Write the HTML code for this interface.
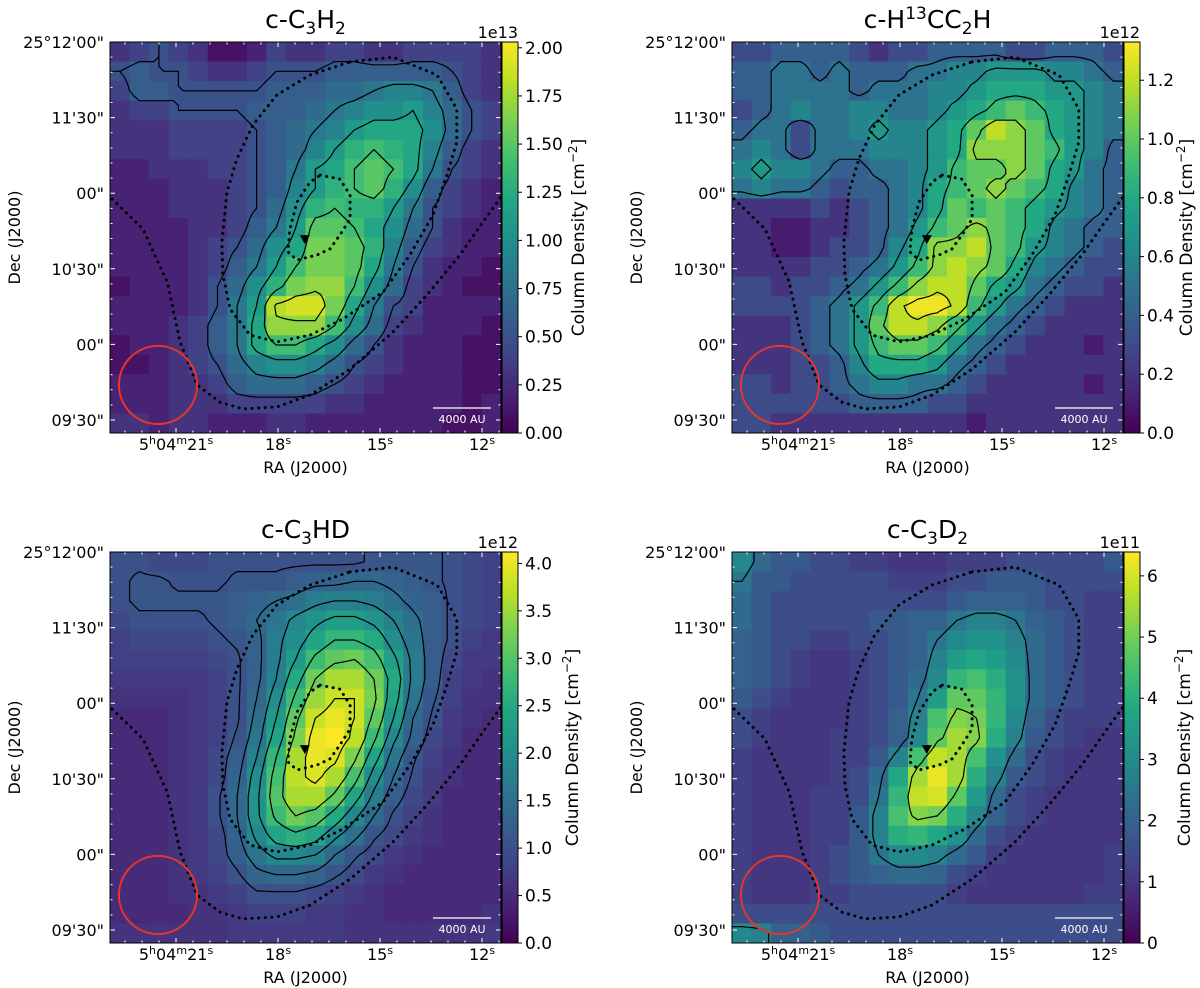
<!DOCTYPE html>
<html><head><meta charset="utf-8">
<style>
html,body{margin:0;padding:0;background:#fff;}
svg{display:block;font-family:"DejaVu Sans","Liberation Sans",sans-serif;}
</style></head>
<body>
<svg id="fig" width="1200" height="988" viewBox="0 0 1200 988" xmlns="http://www.w3.org/2000/svg"></svg>
<script>
// ---- data ----
const p1Grid = [
[3,4,5,4,3,1,1,2,4,3,3,4,4,3,3,4,4,4,4,3],
[5,6,5,5,4,3,3,4,5,5,5,6,6,6,6,6,6,5,4,3],
[4,6,6,5,5,5,5,5,6,6,6,7,7,8,9,9,8,6,4,3],
[3,4,4,5,5,5,5,6,6,6,7,8,9,10,10,11,9,7,5,4],
[3,3,3,4,4,4,4,5,6,7,8,9,11,12,12,12,10,7,5,4],
[3,3,3,4,4,4,4,5,6,7,9,11,13,14,13,12,9,6,4,3],
[2,2,3,3,3,4,4,5,6,8,11,12,14,15,14,12,8,5,4,3],
[2,2,2,3,3,3,4,5,6,9,11,13,14,15,13,10,6,4,3,2],
[2,2,2,3,3,3,4,5,7,10,13,14,13,13,11,8,5,4,3,2],
[2,2,2,2,3,3,4,6,8,11,15,15,14,12,10,7,5,3,2,2],
[2,2,2,2,3,4,5,7,10,12,16,16,15,13,9,6,4,3,2,2],
[2,2,2,2,3,4,6,8,11,14,16,16,15,12,8,5,3,2,2,1],
[1,2,2,2,3,5,7,10,13,16,17,17,14,10,7,4,3,2,1,1],
[2,2,2,2,3,5,8,11,18,19,19,16,12,8,5,4,2,2,2,2],
[2,2,2,3,4,6,8,12,17,17,17,14,10,7,4,3,2,2,2,1],
[1,2,2,3,4,6,8,12,14,14,12,10,7,5,3,2,2,2,1,1],
[1,1,2,3,4,5,7,9,10,10,9,7,5,4,3,2,2,2,1,1],
[2,2,2,3,3,4,6,7,7,7,6,5,4,3,2,2,2,2,1,1],
[2,2,2,3,3,3,4,4,4,4,4,3,3,2,2,2,2,2,1,2],
[3,3,2,3,3,2,2,2,3,3,2,2,2,2,2,2,2,1,1,2]];
const p2Grid = [
[3,3,4,4,4,4,3,2,3,3,4,4,4,4,3,3,4,4,4,3],
[4,4,5,5,4,5,4,4,4,5,5,6,6,7,7,7,6,6,5,4],
[4,4,5,5,5,5,4,5,5,5,6,6,7,8,8,8,7,7,6,5],
[3,4,5,6,5,5,6,6,5,5,6,7,8,9,10,9,8,7,6,5],
[4,5,5,3,5,5,6,7,6,6,7,8,10,12,11,10,8,7,6,5],
[5,6,5,3,5,5,5,6,6,6,7,8,11,11,11,10,9,7,6,4],
[6,7,6,6,5,4,4,5,5,6,7,9,10,10,11,10,8,7,5,4],
[5,6,5,5,4,3,4,4,5,6,8,9,10,11,10,9,8,6,5,4],
[2,2,2,2,3,2,3,4,5,6,8,10,9,10,9,8,7,6,5,4],
[2,2,1,1,2,2,3,4,5,7,9,10,11,10,9,8,6,5,4,4],
[2,2,1,1,2,3,3,4,6,8,11,11,12,10,9,7,6,5,4,3],
[2,2,2,2,3,3,4,5,7,9,11,12,11,10,8,6,5,4,3,3],
[3,3,2,3,3,4,5,7,9,11,12,12,10,8,7,5,4,3,3,2],
[3,3,3,3,4,5,7,9,12,13,13,12,9,7,5,4,3,2,2,2],
[2,2,2,3,4,5,7,10,12,12,11,9,7,5,4,3,2,2,2,2],
[2,2,2,3,4,5,7,9,10,10,9,7,5,4,3,2,2,2,1,2],
[2,2,2,3,3,4,6,8,8,8,7,5,4,3,2,2,2,2,2,2],
[3,3,2,3,3,4,5,6,6,5,5,4,3,2,2,2,2,2,1,2],
[3,3,3,3,3,3,4,4,4,4,3,3,2,2,2,2,2,2,2,2],
[3,3,2,2,2,2,2,2,2,2,2,2,1,2,2,2,2,2,2,2]];
const p3Grid = [
[10,10,9,9,9,10,10,10,10,10,10,10,10,11,11,11,11,10,9,8],
[10,11,11,10,10,10,11,11,11,12,13,13,14,14,13,12,11,10,9,8],
[10,11,11,11,11,11,12,13,14,15,17,18,18,17,15,13,12,10,9,8],
[9,10,10,10,10,11,12,14,16,19,21,23,23,21,18,15,12,10,9,8],
[8,9,9,9,9,10,11,13,17,20,24,27,27,25,20,16,12,10,8,7],
[8,8,8,8,8,9,10,13,17,22,28,31,32,29,23,17,12,9,7,7],
[7,7,7,7,7,8,10,13,18,25,32,36,36,32,25,17,12,8,7,6],
[6,6,6,6,7,8,10,14,20,28,35,38,38,33,24,16,11,8,6,6],
[5,5,5,6,7,8,10,15,22,31,38,40,38,31,22,14,10,7,6,5],
[5,5,5,6,7,8,11,16,24,33,40,41,37,28,19,13,9,7,5,5],
[5,5,5,6,7,9,12,18,27,36,40,39,33,24,16,11,8,6,5,5],
[5,5,5,6,7,9,13,20,29,37,39,36,29,20,14,10,7,6,5,5],
[5,5,5,6,7,10,14,21,30,36,36,31,24,17,12,9,7,5,5,5],
[5,5,5,6,7,10,14,21,28,32,30,25,19,14,10,8,6,5,5,5],
[5,5,5,6,7,9,13,19,24,26,24,19,15,11,9,7,6,5,5,5],
[5,5,5,6,7,9,12,16,19,19,18,14,11,9,7,6,5,5,5,5],
[5,5,5,6,7,8,10,13,14,14,13,11,9,7,6,5,5,5,5,5],
[5,5,5,6,6,7,8,10,10,10,9,8,7,6,5,5,5,5,5,5],
[5,5,5,5,6,6,7,8,8,8,7,7,6,6,5,5,5,5,5,6],
[6,6,6,6,6,6,7,7,7,7,7,7,6,6,6,6,6,6,6,7]];
const p4Grid = [
[30,22,18,18,15,15,12,12,10,10,10,12,12,12,15,15,15,15,15,18],
[25,18,18,15,15,15,15,15,12,12,12,15,15,18,18,18,15,15,15,15],
[22,18,15,15,15,15,15,15,15,15,15,18,20,20,20,18,15,15,12,12],
[22,18,15,15,15,15,15,18,18,20,20,25,28,28,25,20,18,15,12,12],
[20,18,15,15,12,12,15,15,18,20,25,30,32,32,28,22,18,15,12,12],
[20,18,15,12,10,10,12,15,18,20,28,35,38,35,30,22,18,15,12,12],
[20,18,15,12,10,10,12,15,18,22,30,42,45,40,32,22,18,15,12,12],
[18,15,12,10,10,10,12,15,18,25,35,48,48,42,32,22,18,15,12,12],
[15,12,10,10,10,10,12,15,20,28,45,52,50,42,30,20,15,12,12,12],
[15,12,10,10,10,12,12,15,20,30,48,55,52,40,28,18,15,12,10,10],
[12,10,10,10,10,12,12,18,28,45,58,55,45,32,22,15,12,10,10,10],
[12,10,10,10,10,12,15,22,38,55,62,55,40,28,18,15,12,10,10,10],
[12,10,10,10,12,12,15,25,42,58,60,48,35,22,15,12,10,10,10,10],
[12,10,10,10,12,12,18,28,45,52,50,40,30,20,15,12,10,10,10,10],
[12,10,10,10,12,12,18,28,40,42,38,32,22,15,12,10,10,10,10,10],
[12,10,10,10,12,15,18,25,30,30,28,22,18,12,10,10,10,10,10,12],
[12,10,10,10,12,15,18,20,22,22,20,15,12,10,10,10,10,10,10,12],
[12,10,10,10,12,12,15,15,15,15,15,12,10,10,10,10,10,10,12,12],
[15,15,15,15,15,15,15,15,15,15,15,15,15,15,15,15,15,15,15,15],
[30,28,20,20,18,15,15,15,15,15,15,15,15,15,15,15,15,15,15,15]];
const p1Levels = [5,8,11,14,17.5];
const p2Levels = [4.5,6.5,8.5,10.5,12.3];
const p3Levels = [10.5,14,18,22,27,32,38];
const p4Levels = [25,50];
const p1Ticks = [0,0.25,0.5,0.75,1.0,1.25,1.5,1.75,2.0];
const p2Ticks = [0,0.2,0.4,0.6,0.8,1.0,1.2];
const p3Ticks = [0,0.5,1.0,1.5,2.0,2.5,3.0,3.5,4.0];
const p4Ticks = [0,1,2,3,4,5,6];
const raTicks = [21,18,15,12];
const decTicks = [180,150,120,90,60,30];
const decLabels = ["25°12'00\"","11'30\"","00\"","10'30\"","00\"","09'30\""];
const bigLoopRA  = [15.88,14.62,13.32,12.74,12.74,13.03,13.44,14.12,14.91,16.09,17.06,18.03,18.82,19.41,19.62,19.65,19.50,19.21,18.74,18.03,17.06,15.88];
const bigLoopDec = [172.1,174.0,166.9,153.4,140.3,127.2,111.4,95.5,80.8,70.1,63.7,61.0,63.7,74.0,87.5,100.6,120.5,133.6,147.1,159.0,166.9,172.1];
const outerRA  = [22.88,21.97,21.26,20.88,20.38,19.71,19.03,18.03,17.06,15.88,14.62,13.62,12.65,11.97,11.44];
const outerDec = [117.7,105.8,84.8,61.0,43.9,37.1,34.4,35.2,39.9,50.2,64.9,79.6,95.5,108.6,118.5];
const innerRA  = [16.76,16.18,15.88,15.88,16.18,16.47,16.85,17.44,17.71,17.65,17.44,17.06,16.76];
const innerDec = [127.2,125.6,119.3,109.8,103.4,97.9,95.5,93.5,96.7,105.8,116.5,124.4,127.2];
const starRA = 17.21, starDec = 101.8;
const beamRA = 21.53, beamDec = 43.9, beamRadius = 15.5;

// ---- drawing ----
const NS = "http://www.w3.org/2000/svg";
const svg = document.getElementById('fig');
const PW = 391, PH = 391;
const stops = ["#440154","#482475","#414487","#355f8d","#2a788e","#21918c","#22a884","#44bf70","#7ad151","#bddf26","#fde725"];
function hex(h){return [parseInt(h.substr(1,2),16),parseInt(h.substr(3,2),16),parseInt(h.substr(5,2),16)];}
function viridis(t){t=Math.max(0,Math.min(1,t));const f=t*10,i=Math.min(9,Math.floor(f)),r=f-i;const a=hex(stops[i]),b=hex(stops[i+1]);
 return `rgb(${Math.round(a[0]+(b[0]-a[0])*r)},${Math.round(a[1]+(b[1]-a[1])*r)},${Math.round(a[2]+(b[2]-a[2])*r)})`;}
function el(tag,attrs,parent){const e=document.createElementNS(NS,tag);for(const k in attrs)e.setAttribute(k,attrs[k]);(parent||svg).appendChild(e);return e;}
const defs = el('defs',{});
const grad = el('linearGradient',{id:'vir',x1:0,y1:1,x2:0,y2:0},defs);
stops.forEach((s,i)=>el('stop',{offset:i/10,'stop-color':s},grad));

function xScale(ra){return 66+(21-ra)*34;}
function yScale(dec){return (180-dec)/0.3968;}

function panel(cfg){
 const g = el('g',{transform:`translate(${cfg.left},${cfg.top})`});
 
 
 const clipId='clip'+cfg.name;
 const cp=el('clipPath',{id:clipId},defs); el('rect',{x:0,y:0,width:PW,height:PH},cp);
 const grid=cfg.grid, n=grid.length, m=grid[0].length, cw=PW/m, ch=PH/n;
 const hm = el('g',{'clip-path':`url(#${clipId})`},g);
 
 
 for(let r=0;r<n;r++)for(let c=0;c<m;c++){
  const rc=el('rect',{x:(c*cw).toFixed(2),y:(r*ch).toFixed(2),width:(cw+0.6).toFixed(2),height:(ch+0.6).toFixed(2),fill:viridis(grid[r][c]/cfg.vmax)},hm);
  
  
 }
 const S=4, N=n*S+1, M=m*S+1;
 function val(px,py){
  let fx=px/cw-0.5, fy=py/ch-0.5; fx=Math.max(0,Math.min(m-1,fx)); fy=Math.max(0,Math.min(n-1,fy));
  const x0=Math.min(m-2,Math.floor(fx)),y0=Math.min(n-2,Math.floor(fy)),tx=fx-x0,ty=fy-y0;
  return grid[y0][x0]*(1-tx)*(1-ty)+grid[y0][x0+1]*tx*(1-ty)+grid[y0+1][x0]*(1-tx)*ty+grid[y0+1][x0+1]*tx*ty;}
 const V=[];for(let j=0;j<N;j++){V.push([]);for(let i=0;i<M;i++)V[j].push(val(i*PW/(M-1),j*PH/(N-1)));}
 const dx=PW/(M-1), dy=PH/(N-1);
 cfg.levels.forEach(L=>{
  let d='';
  function ip(v1,v2,x1,y1,x2,y2){const t=(L-v1)/(v2-v1);return [x1+(x2-x1)*t,y1+(y2-y1)*t];}
  for(let j=0;j<N-1;j++){
   for(let i=0;i<M-1;i++){
    const a=V[j][i],b=V[j][i+1],c=V[j+1][i+1],e=V[j+1][i];
    const pts=[];
    const X=i*dx,Y=j*dy;
    if((a<L)!==(b<L))pts.push(ip(a,b,X,Y,X+dx,Y));
    if((b<L)!==(c<L))pts.push(ip(b,c,X+dx,Y,X+dx,Y+dy));
    if((e<L)!==(c<L))pts.push(ip(e,c,X,Y+dy,X+dx,Y+dy));
    if((a<L)!==(e<L))pts.push(ip(a,e,X,Y,X,Y+dy));
    for(let k=0;k+1<pts.length;k+=2)d+=`M${pts[k][0].toFixed(1)},${pts[k][1].toFixed(1)}L${pts[k+1][0].toFixed(1)},${pts[k+1][1].toFixed(1)}`;
   }
  }
  const p=el('path',{d:d,stroke:'#000','stroke-width':1.2,fill:'none','stroke-linecap':'round','clip-path':`url(#${clipId})`},g);
  
  
 });
 [[bigLoopRA,bigLoopDec],[outerRA,outerDec],[innerRA,innerDec]].forEach(([ra,de])=>{
  const d=ra.map((r,i)=>(i?'L':'M')+xScale(r).toFixed(1)+','+yScale(de[i]).toFixed(1)).join('');
  const p=el('path',{d:d,stroke:'#000','stroke-width':3,fill:'none','stroke-dasharray':'0.1 6.5','stroke-linecap':'round','clip-path':`url(#${clipId})`},g);
  
  
 });
 const sx=xScale(starRA), sy=yScale(starDec);
 const st=el('path',{d:`M${sx-5},${sy-4}L${sx+5},${sy-4}L${sx},${sy+5}Z`,fill:'#000'},g);
 
 
 const bm=el('circle',{cx:xScale(beamRA),cy:yScale(beamDec),r:beamRadius/0.3968,stroke:'#e8352b','stroke-width':2,fill:'none'},g);
 
 
 const sb=el('line',{x1:323,x2:381,y1:366,y2:366,stroke:'#fff','stroke-width':1.3},g);
 
 
 const sbt=el('text',{x:352,y:381,'font-size':11,fill:'#fff','text-anchor':'middle'},g); sbt.textContent='4000 AU';
 
 
 let td='';
 for(let x=66-34*2;x<=PW;x+=34/2){ if(x<0)continue; const maj=raTicks.some(r=>Math.abs(xScale(r)-x)<1); const L=maj?5:2.5; td+=`M${x},${PH}v${-L}M${x},0v${L}`; }
 for(let y=0;y<=PH;y+=75.6/5){ const q=y/75.6; const maj=Math.abs(q-Math.round(q))<0.01; const L=maj?5:2.5; td+=`M0,${y}h${L}M${PW},${y}h${-L}`; }
 el('path',{d:td,stroke:'#fff','stroke-width':1},g);
 const fr=el('rect',{x:0,y:0,width:PW,height:PH,fill:'none',stroke:'#000','stroke-width':1},g);
 
 
 raTicks.forEach((r,i)=>{
  const t=el('text',{x:xScale(r),y:PH+17,'font-size':16,'text-anchor':'middle'},g);
  
  
  if(i===0){t.innerHTML='5<tspan font-size="11" dy="-6">h</tspan><tspan dy="6">04</tspan><tspan font-size="11" dy="-6">m</tspan><tspan dy="6">'+r+'</tspan><tspan font-size="11" dy="-6">s</tspan>';}
  else t.innerHTML=r+'<tspan font-size="11" dy="-6">s</tspan>';
 });
 decTicks.forEach((d,i)=>{
  const t=el('text',{x:-6,y:yScale(d)+6,'font-size':16,'text-anchor':'end'},g);
  t.textContent=decLabels[i];
  
  
 });
 const xl=el('text',{x:PW/2,y:PH+40,'font-size':16,'text-anchor':'middle'},g); xl.textContent='RA (J2000)';
 
 
 const yl=el('text',{x:0,y:0,'font-size':16,'text-anchor':'middle',transform:`translate(${-90},${PH/2}) rotate(-90)`},g); yl.textContent='Dec (J2000)';
 
 
 const tt=el('text',{x:PW/2,y:-14,'font-size':25,'text-anchor':'middle'},g); tt.innerHTML=cfg.title;
 
 
 const cb=el('rect',{x:392,y:0,width:16,height:PH,fill:'url(#vir)',stroke:'#000','stroke-width':1},g);
 
 
 const cbMax=cfg.vmax/cfg.unit;
 cfg.ticks.forEach(v=>{
  const y=PH-v/cbMax*PH;
  el('line',{x1:408,x2:412,y1:y,y2:y,stroke:'#000','stroke-width':1},g);
  const t=el('text',{x:415,y:y+6,'font-size':17},g); t.textContent=v.toFixed(cfg.dec);
  
  
 });
 const ex=el('text',{x:408,y:-4,'font-size':16,'text-anchor':'end'},g); ex.textContent=cfg.exp;
 
 
 const cl=el('text',{x:0,y:0,'font-size':17,'text-anchor':'middle',transform:`translate(${cfg.cbLabelX},${PH/2}) rotate(-90)`},g);
 cl.innerHTML='Column Density  [cm<tspan font-size="12" dy="-7">−2</tspan><tspan dy="7">]</tspan>';
 
 
}
panel({name:'panel-c3h2',left:110,top:42,grid:p1Grid,vmax:20.3,unit:10,levels:p1Levels,ticks:p1Ticks,dec:2,exp:'1e13',cbLabelX:474,
 title:'c-C<tspan font-size="17" dy="6">3</tspan><tspan dy="-6">H</tspan><tspan font-size="17" dy="6">2</tspan>'});
panel({name:'panel-h13ccch',left:732,top:42,grid:p2Grid,vmax:13.3,unit:10,levels:p2Levels,ticks:p2Ticks,dec:1,exp:'1e12',cbLabelX:460,
 title:'c-H<tspan font-size="17" dy="-9">13</tspan><tspan dy="9">CC</tspan><tspan font-size="17" dy="6">2</tspan><tspan dy="-6">H</tspan>'});
panel({name:'panel-c3hd',left:110,top:552,grid:p3Grid,vmax:41.2,unit:10,levels:p3Levels,ticks:p3Ticks,dec:1,exp:'1e12',cbLabelX:468,
 title:'c-C<tspan font-size="17" dy="6">3</tspan><tspan dy="-6">HD</tspan>'});
panel({name:'panel-c3d2',left:732,top:552,grid:p4Grid,vmax:63.9,unit:10,levels:p4Levels,ticks:p4Ticks,dec:0,exp:'1e11',cbLabelX:458,
 title:'c-C<tspan font-size="17" dy="6">3</tspan><tspan dy="-6">D</tspan><tspan font-size="17" dy="6">2</tspan>'});
</script>
</body></html>
